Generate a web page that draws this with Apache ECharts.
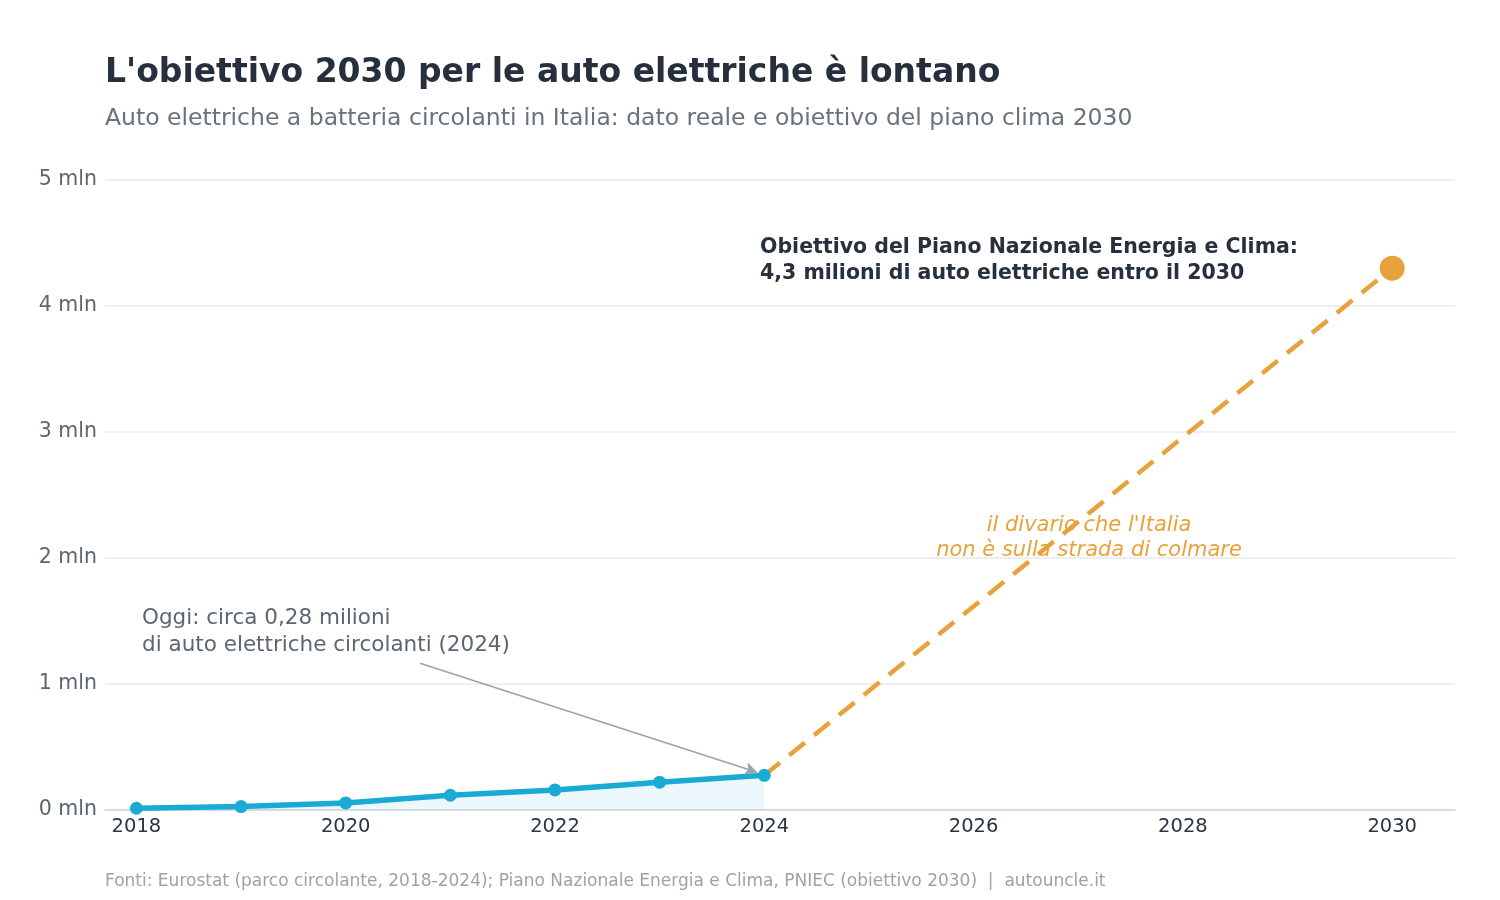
<!DOCTYPE html>
<html>
<head>
<meta charset="utf-8">
<title>Auto elettriche Italia</title>
<script src="https://cdn.jsdelivr.net/npm/echarts@6/dist/echarts.min.js"></script>
<style>
  html, body { margin: 0; padding: 0; background: #fff; }
  #chart { width: 1500px; height: 900px; }
</style>
</head>
<body>
<div id="chart"></div>
<script>
// dati reali (milioni di auto BEV circolanti)
const years = [2018, 2019, 2020, 2021, 2022, 2023, 2024];
const bevStock = [0.014, 0.027, 0.056, 0.117, 0.159, 0.221, 0.275];
// obiettivo PNIEC
const targetYears = [2024, 2030];
const targetValues = [0.275, 4.3];
const yTicks = [0, 1, 2, 3, 4, 5];

const FONT = '"DejaVu Sans"';
const blue = '#1aabd5';
const orange = '#e8a23b';

const chart = echarts.init(document.getElementById('chart'));

const option = {
    backgroundColor: '#fff',
    animation: false,
    textStyle: { fontFamily: FONT },
    grid: { left: 105, right: 45, top: 180, bottom: 90, containLabel: false },
    xAxis: {
        type: 'value',
        min: 2017.7,
        max: 2030.6,
        splitNumber: 6,
        axisLine: { show: true, lineStyle: { color: '#cfd6de', width: 1.5 } },
        axisTick: { show: false },
        splitLine: { show: false },
        axisLabel: {
            color: '#2b3541',
            fontSize: 19.5,
            fontFamily: FONT,
            margin: 7,
            showMinLabel: false,
            showMaxLabel: false,
            formatter: v => Number.isInteger(v) ? String(v) : ''
        }
    },
    yAxis: {
        type: 'value',
        min: yTicks[0],
        max: yTicks[yTicks.length - 1],
        interval: 1,
        axisLine: { show: false },
        axisTick: { show: false },
        splitLine: { lineStyle: { color: '#e6e9ed', width: 1.5 } },
        axisLabel: {
            color: '#5b6672',
            fontSize: 20.5,
            fontFamily: FONT,
            margin: 8,
            padding: [3, 0, 0, 0],
            formatter: v => v + ' mln'
        }
    },
    series: [
        {
            name: 'Obiettivo 2030',
            type: 'line',
            data: targetYears.map((y, i) => [y, targetValues[i]]),
            lineStyle: { color: orange, width: 4.5, type: [20, 12] },
            symbol: 'circle',
            symbolSize: (v, p) => p.dataIndex === targetYears.length - 1 ? 25 : 0,
            itemStyle: { color: orange },
            z: 2
        },
        {
            name: 'Dato reale',
            type: 'line',
            data: years.map((y, i) => [y, bevStock[i]]),
            lineStyle: { color: blue, width: 5.5 },
            symbol: 'circle',
            symbolSize: 13,
            itemStyle: { color: blue },
            areaStyle: { color: 'rgba(26,171,213,0.11)' },
            z: 3,
            markLine: {
                silent: true,
                symbol: ['none', 'arrow'],
                symbolSize: [10, 12],
                label: { show: false },
                lineStyle: { color: '#9aa2ab', width: 1.6, type: 'solid' },
                data: [[{ coord: [2020.71, 1.165] }, { coord: [2023.93, 0.3] }]]
            }
        }
    ],
    graphic: [
        {
            type: 'text', left: 105, top: 57,
            style: { text: "L'obiettivo 2030 per le auto elettriche è lontano", fill: '#25303c', font: 'bold 33px ' + FONT }
        },
        {
            type: 'text', left: 105, top: 107,
            style: { text: 'Auto elettriche a batteria circolanti in Italia: dato reale e obiettivo del piano clima 2030', fill: '#68727d', font: '23.5px ' + FONT }
        },
        {
            type: 'text', left: 760, top: 235,
            style: {
                text: 'Obiettivo del Piano Nazionale Energia e Clima:\n4,3 milioni di auto elettriche entro il 2030',
                fill: '#26313d', font: 'bold 20.5px ' + FONT, lineHeight: 26
            }
        },
        {
            type: 'text', x: 1089, y: 513,
            style: {
                text: "il divario che l'Italia\nnon è sulla strada di colmare",
                fill: orange, font: 'italic 21px ' + FONT, lineHeight: 25, align: 'center'
            }
        },
        {
            type: 'text', left: 142, top: 605,
            style: {
                text: 'Oggi: circa 0,28 milioni\ndi auto elettriche circolanti (2024)',
                fill: '#5b6672', font: '21.5px ' + FONT, lineHeight: 27
            }
        },
        {
            type: 'text', left: 105, top: 873,
            style: {
                text: 'Fonti: Eurostat (parco circolante, 2018-2024); Piano Nazionale Energia e Clima, PNIEC (obiettivo 2030)  |  autouncle.it',
                fill: '#9aa3ad', font: '17px ' + FONT
            }
        }
    ]
};

chart.setOption(option);
</script>
</body>
</html>
